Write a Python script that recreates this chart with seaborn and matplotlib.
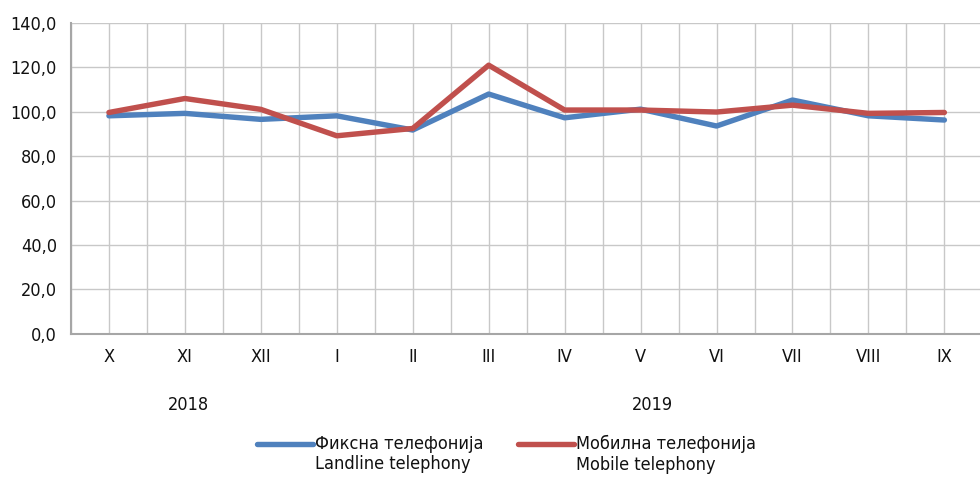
import numpy as np
import pandas as pd
import matplotlib
matplotlib.use('Agg')
import matplotlib.pyplot as plt
import seaborn as sns
from matplotlib.legend_handler import HandlerLine2D

# Месеци (октомври 2018 - септември 2019)
months = ['X', 'XI', 'XII', 'I', 'II', 'III', 'IV', 'V', 'VI', 'VII', 'VIII', 'IX']
landline = [98.2, 99.3, 96.6, 98.2, 91.8, 108.0, 97.3, 101.2, 93.6, 105.3, 98.2, 96.3]
mobile = [99.7, 106.0, 101.1, 89.2, 92.5, 121.0, 100.8, 100.8, 99.9, 103.0, 99.3, 99.7]
series_names = ['Фиксна телефонија\nLandline telephony', 'Мобилна телефонија\nMobile telephony']
years = ['2018', '2019']
year_pos = [1.05, 7.15]
y_ticks = [0, 20, 40, 60, 80, 100, 120, 140]

df = pd.DataFrame({
    'pos': list(range(len(months))) * 2,
    'value': landline + mobile,
    'series': [series_names[0]] * len(months) + [series_names[1]] * len(months),
})

sns.set_style('white')
plt.rcParams['font.family'] = ['DejaVu Sans']
plt.rcParams['font.stretch'] = 'condensed'
plt.rcParams['text.color'] = '#111111'
plt.rcParams['xtick.color'] = '#111111'
plt.rcParams['ytick.color'] = '#111111'

fig = plt.figure(figsize=(9.8, 4.79), dpi=100)
ax = fig.add_axes([0.0724, 0.303, 0.93, 0.649])

sns.lineplot(data=df, x='pos', y='value', hue='series', palette=['#4F81BD', '#C0504D'],
             linewidth=3.9, ax=ax, legend=False)

ax.set_xlim(-0.5, 11.5)
ax.set_ylim(0, 140)
ax.set_yticks(y_ticks)
ax.set_yticklabels([f'{v:.1f}'.replace('.', ',') for v in y_ticks], fontsize=13)
ax.set_xticks(range(len(months)))
ax.set_xticklabels(months, fontsize=13)
ax.set_xticks(np.arange(-0.5, 12, 1), minor=True)
ax.tick_params(axis='x', which='major', length=0, pad=10)
ax.tick_params(axis='x', which='minor', length=7, color='#A6A6A6', width=1.2)
ax.tick_params(axis='y', length=6, color='#A6A6A6', width=1.2, pad=4)
ax.set_xlabel('')
ax.set_ylabel('')

ax.grid(True, which='both', color='#C8C8C8', linewidth=1.0)
ax.set_axisbelow(True)
for side in ['top', 'right']:
    ax.spines[side].set_visible(False)
for side in ['left', 'bottom']:
    ax.spines[side].set_color('#A6A6A6')
    ax.spines[side].set_linewidth(1.5)

for yr, xp in zip(years, year_pos):
    ax.text(xp, -0.228, yr, transform=ax.get_xaxis_transform(), ha='center', va='center', fontsize=13)


class TopLine(HandlerLine2D):
    # линијата да стои до првиот ред од текстот
    def create_artists(self, legend, orig_handle, xdescent, ydescent, width, height, fontsize, trans):
        arts = super().create_artists(legend, orig_handle, xdescent, ydescent, width, height, fontsize, trans)
        for a in arts:
            a.set_ydata(np.asarray(a.get_ydata()) + fontsize * 0.6)
        return arts


handles = ax.get_lines()[:2]
fig.legend(handles, series_names, loc='center', bbox_to_anchor=(0.517, 0.052), ncol=2,
           frameon=False, fontsize=13, handlelength=3.1, handletextpad=0.1, columnspacing=1.9,
           handler_map={h: TopLine() for h in handles})

fig.savefig('out.png', dpi=100)
